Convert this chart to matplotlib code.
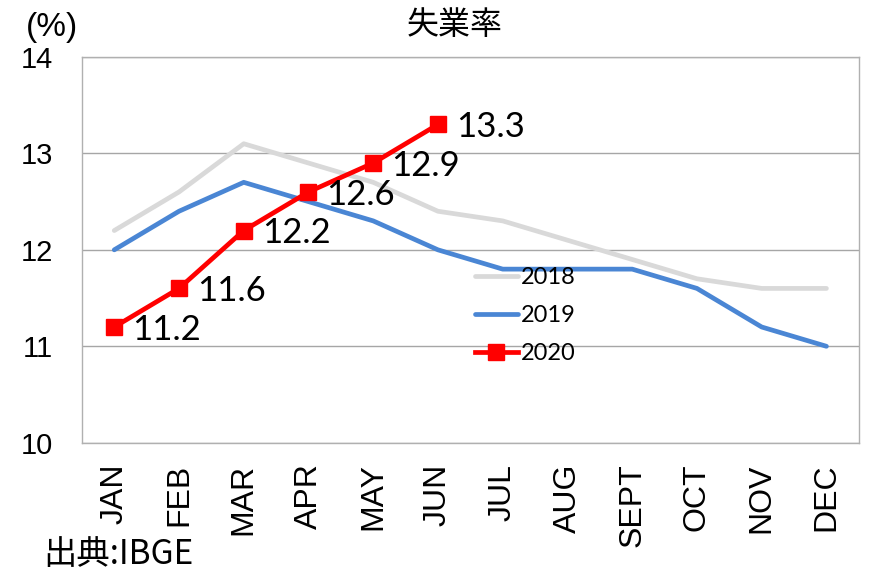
import matplotlib
matplotlib.use("Agg")
import matplotlib.pyplot as plt

months = ["JAN", "FEB", "MAR", "APR", "MAY", "JUN",
          "JUL", "AUG", "SEPT", "OCT", "NOV", "DEC"]
rate_2018 = [12.2, 12.6, 13.1, 12.9, 12.7, 12.4, 12.3, 12.1, 11.9, 11.7, 11.6, 11.6]
rate_2019 = [12.0, 12.4, 12.7, 12.5, 12.3, 12.0, 11.8, 11.8, 11.8, 11.6, 11.2, 11.0]
rate_2020 = [11.2, 11.6, 12.2, 12.6, 12.9, 13.3]

plt.rcParams["font.family"] = ["Liberation Sans", "Noto Sans CJK JP"]

fig = plt.figure(figsize=(8.71, 5.75), dpi=100)
ax = fig.add_axes([0.094, 0.23, 0.892, 0.671])

x = list(range(len(months)))
ax.plot(x, rate_2018, color="#d9d9d9", lw=3.4, label="2018", solid_capstyle="round")
ax.plot(x, rate_2019, color="#4a86d4", lw=3.4, label="2019", solid_capstyle="round")
ax.plot(x[:len(rate_2020)], rate_2020, color="#ff0000", lw=3.4, marker="s",
        markersize=11, label="2020")

for xi, v in zip(x, rate_2020):
    ax.annotate(f"{v:.1f}", (xi, v), xytext=(13, -2), textcoords="offset points",
                ha="left", va="center", fontsize=25, family="Lato")

ax.set_xlim(-0.5, 11.5)
ax.set_ylim(10, 14)
ax.set_yticks([10, 11, 12, 13, 14])
ax.set_xticks(x)
ax.set_xticklabels(months, rotation=90, fontsize=23)
ax.tick_params(axis="y", labelsize=21, length=0, pad=21)
ax.tick_params(axis="x", length=0, pad=15)
ax.grid(axis="y", color="#a6a6a6", lw=1)
ax.set_axisbelow(True)
for s in ax.spines.values():
    s.set_color("#b0b0b0")
    s.set_linewidth(1)

leg = ax.legend(loc="upper left", bbox_to_anchor=(0.506, 0.455), frameon=False,
                prop={"family": "Lato", "size": 17}, handlelength=1.8,
                handletextpad=0.15, labelspacing=0.72, borderaxespad=0,
                borderpad=0)

fig.text(0.522, 0.957, "失業率", ha="center", va="center", fontsize=23,
         family="Noto Sans CJK JP")
fig.text(0.06, 0.953, "(%)", ha="center", va="center", fontsize=24)
fig.text(0.05, 0.006, "出典:IBGE", ha="left", va="bottom", fontsize=24,
         family=["Noto Sans CJK JP", "Liberation Sans"])

fig.savefig("out.png", dpi=100)
